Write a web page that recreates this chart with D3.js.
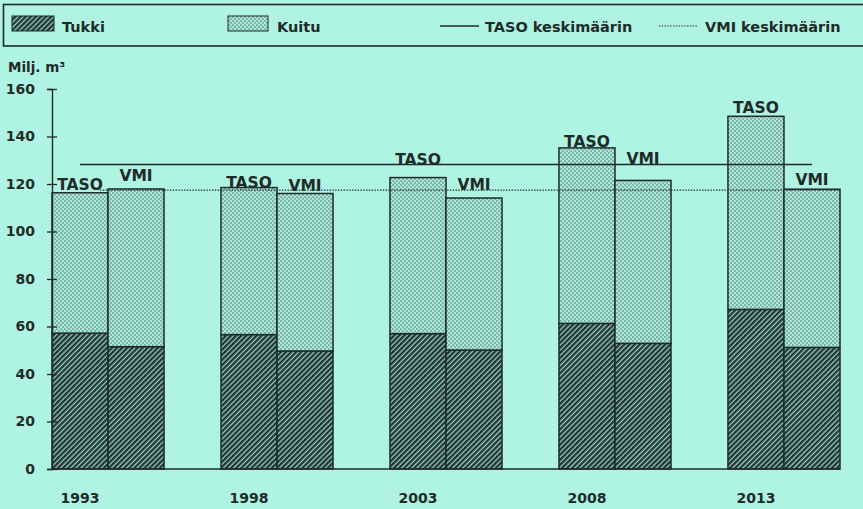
<!DOCTYPE html>
<html>
<head>
<meta charset="utf-8">
<script src="https://cdn.jsdelivr.net/npm/d3@7"></script>
<style>
body { margin:0; background:#aff3e2; }
svg { display:block; font-family:"DejaVu Sans", sans-serif; font-weight:bold; }
</style>
</head>
<body>
<svg id="chart"></svg>
<script>
// data
var years = ["1993", "1998", "2003", "2008", "2013"];
var series = ["TASO", "VMI"];
var tukkiTaso = [57.2, 56.6, 57.0, 61.3, 67.2];
var kuituTaso = [59.1, 61.9, 65.7, 73.9, 81.3];
var tukkiVmi = [51.5, 49.7, 50.1, 52.9, 51.2];
var kuituVmi = [66.4, 66.3, 64.0, 68.6, 66.6];
var yTicks = [0, 20, 40, 60, 80, 100, 120, 140, 160];

// how high each bar label sits above its bar (px), hand placed like the original
var liftTaso = [3, 0, 13, 1, 3];
var liftVmi = [8, 3, 8, 16, 4];

var W = 863, H = 509;
var ink = "#1f2b29";

var svg = d3.select("#chart").attr("width", W).attr("height", H);

// patterns
var defs = svg.append("defs");
var hatch = defs.append("pattern")
  .attr("id", "hatch")
  .attr("patternUnits", "userSpaceOnUse")
  .attr("width", 3.6).attr("height", 3.6)
  .attr("patternTransform", "rotate(45)");
hatch.append("rect").attr("width", 3.6).attr("height", 3.6).attr("fill", "#94d6c6");
hatch.append("rect").attr("width", 2.4).attr("height", 3.6).attr("fill", "#263634");

var dots = defs.append("pattern")
  .attr("id", "dots")
  .attr("patternUnits", "userSpaceOnUse")
  .attr("width", 4).attr("height", 4);
dots.append("rect").attr("width", 4).attr("height", 4).attr("fill", "#a6e9d8");
dots.append("rect").attr("x", 0.4).attr("y", 0.4).attr("width", 1.2).attr("height", 1.2).attr("fill", "#3f5955");
dots.append("rect").attr("x", 2.4).attr("y", 2.4).attr("width", 1.2).attr("height", 1.2).attr("fill", "#3f5955");

// scales
var x = d3.scaleBand()
  .domain(years)
  .range([52, 840])
  .paddingInner(0.337)
  .paddingOuter(0);

var xs = d3.scaleBand()
  .domain(series)
  .range([0, x.bandwidth()]);

var y = d3.scaleLinear()
  .domain([0, 160])
  .range([469, 89]);

// rows for stacking
var rows = [];
years.forEach(function(yr, i) {
  rows.push({year: yr, s: "TASO", tukki: tukkiTaso[i], kuitu: kuituTaso[i], lift: liftTaso[i]});
  rows.push({year: yr, s: "VMI", tukki: tukkiVmi[i], kuitu: kuituVmi[i], lift: liftVmi[i]});
});

// legend box
svg.append("rect")
  .attr("x", 3.5).attr("y", 4.5)
  .attr("width", 880).attr("height", 41.5)
  .attr("fill", "none").attr("stroke", ink).attr("stroke-width", 1.6);

var lg = svg.append("g").style("font-size", "14.5px").attr("fill", ink);
lg.append("rect").attr("x", 12).attr("y", 16).attr("width", 42).attr("height", 15)
  .attr("fill", "url(#hatch)").attr("stroke", ink).attr("stroke-width", 1);
lg.append("text").attr("x", 62).attr("y", 32).text("Tukki");
lg.append("rect").attr("x", 228).attr("y", 16).attr("width", 40).attr("height", 15)
  .attr("fill", "url(#dots)").attr("stroke", ink).attr("stroke-width", 1);
lg.append("text").attr("x", 277).attr("y", 32).text("Kuitu");
lg.append("line").attr("x1", 440).attr("x2", 479).attr("y1", 26).attr("y2", 26)
  .attr("stroke", ink).attr("stroke-width", 1.3);
lg.append("text").attr("x", 485).attr("y", 32).text("TASO keskimäärin");
lg.append("line").attr("x1", 659).attr("x2", 697).attr("y1", 26).attr("y2", 26)
  .attr("stroke", ink).attr("stroke-width", 1.1).attr("stroke-dasharray", "1.4,1.4");
lg.append("text").attr("x", 705).attr("y", 32).text("VMI keskimäärin");

// unit label
svg.append("text").attr("x", 8).attr("y", 72)
  .style("font-size", "13.5px").attr("fill", ink)
  .text("Milj. m³");

// bars
var bars = svg.append("g");
bars.selectAll("rect.tukki")
  .data(rows).enter().append("rect")
  .attr("class", "tukki")
  .attr("x", function(d) { return x(d.year) + xs(d.s); })
  .attr("y", function(d) { return y(d.tukki); })
  .attr("width", xs.bandwidth())
  .attr("height", function(d) { return y(0) - y(d.tukki); })
  .attr("fill", "url(#hatch)")
  .attr("stroke", ink).attr("stroke-width", 1.5);

bars.selectAll("rect.kuitu")
  .data(rows).enter().append("rect")
  .attr("class", "kuitu")
  .attr("x", function(d) { return x(d.year) + xs(d.s); })
  .attr("y", function(d) { return y(d.tukki + d.kuitu); })
  .attr("width", xs.bandwidth())
  .attr("height", function(d) { return y(d.tukki) - y(d.tukki + d.kuitu); })
  .attr("fill", "url(#dots)")
  .attr("stroke", ink).attr("stroke-width", 1.5);

// average lines
var tasoMean = d3.mean(rows.filter(function(d) { return d.s == "TASO"; }), function(d) { return d.tukki + d.kuitu; });
var vmiMean = d3.mean(rows.filter(function(d) { return d.s == "VMI"; }), function(d) { return d.tukki + d.kuitu; });

svg.append("line")
  .attr("x1", x(years[0]) + xs("TASO") + xs.bandwidth() / 2)
  .attr("x2", x(years[4]) + xs("VMI") + xs.bandwidth() / 2)
  .attr("y1", y(tasoMean)).attr("y2", y(tasoMean))
  .attr("stroke", ink).attr("stroke-width", 1.4);

svg.append("line")
  .attr("x1", x(years[0]) + xs("VMI") - 8)
  .attr("x2", x(years[4]) + x.bandwidth())
  .attr("y1", y(vmiMean)).attr("y2", y(vmiMean))
  .attr("stroke", ink).attr("stroke-width", 1.2).attr("stroke-dasharray", "1.4,1.4");

// bar labels
svg.append("g").selectAll("text")
  .data(rows).enter().append("text")
  .attr("x", function(d) { return x(d.year) + xs(d.s) + xs.bandwidth() / 2; })
  .attr("y", function(d) { return y(d.tukki + d.kuitu) - d.lift; })
  .attr("text-anchor", "middle")
  .style("font-size", "15.5px")
  .attr("fill", ink)
  .text(function(d) { return d.s; });

// y axis
var yAxis = svg.append("g")
  .attr("transform", "translate(52,0)")
  .call(d3.axisLeft(y).tickValues(yTicks).tickSize(5).tickPadding(12));
yAxis.select(".domain").attr("stroke", ink).attr("stroke-width", 1.4);
yAxis.selectAll(".tick line").attr("x1", 5).attr("x2", -5).attr("stroke", ink).attr("stroke-width", 1.3);
yAxis.selectAll(".tick text")
  .attr("fill", ink)
  .style("font-family", "DejaVu Sans, sans-serif")
  .style("font-weight", "bold")
  .style("font-size", "14px");

// baseline
svg.append("line")
  .attr("x1", 52).attr("x2", x.range()[1])
  .attr("y1", y(0)).attr("y2", y(0))
  .attr("stroke", ink).attr("stroke-width", 1.4);

// year labels, under the TASO bars
svg.append("g").selectAll("text")
  .data(years).enter().append("text")
  .attr("x", function(d) { return x(d) + xs("TASO") + xs.bandwidth() / 2; })
  .attr("y", 503)
  .attr("text-anchor", "middle")
  .style("font-size", "14px")
  .attr("fill", ink)
  .text(function(d) { return d; });
</script>
</body>
</html>
